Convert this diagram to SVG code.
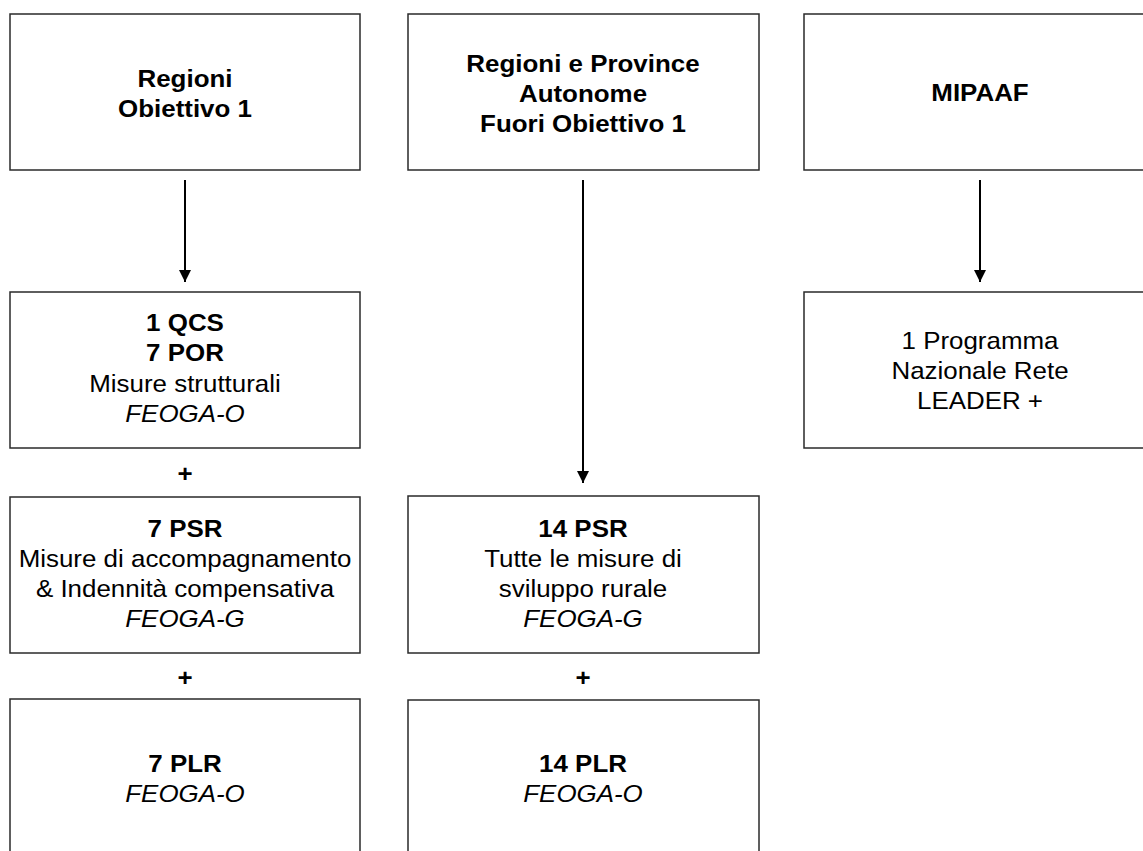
<svg xmlns="http://www.w3.org/2000/svg" width="1143" height="851" viewBox="0 0 1143 851">
<style>
.box{fill:#fff;stroke:#2a2a2a;stroke-width:1.5}
text{font-family:"Liberation Sans",Arial,sans-serif;font-size:24px;fill:#000;text-anchor:middle}
.b{font-weight:bold}
.i{font-style:italic}
.conn{stroke:#000;stroke-width:2;fill:none}
</style>
<defs>
<marker id="ah" markerWidth="12" markerHeight="12" refX="6" refY="11" orient="auto" markerUnits="userSpaceOnUse" viewBox="0 0 12 12">
<path d="M0,0 L12,0 L6,12 Z" fill="#000" transform="rotate(-90 6 6)"/>
</marker>
<marker id="arr" markerWidth="12" markerHeight="13" refX="12" refY="6" orient="auto" markerUnits="userSpaceOnUse" viewBox="0 0 12 12">
<path d="M0,0 L12,6 L0,12 Z" fill="#000"/>
</marker>
</defs>
<rect width="1143" height="851" fill="#fff"/>

<g id="connectors">
<line class="conn" x1="185" y1="180" x2="185" y2="282" marker-end="url(#arr)"/>
<line class="conn" x1="583" y1="180" x2="583" y2="483" marker-end="url(#arr)"/>
<line class="conn" x1="980" y1="180" x2="980" y2="282" marker-end="url(#arr)"/>
</g>

<g id="n_regioni">
<rect class="box" x="10" y="14" width="350" height="156"/>
<g transform="matrix(1.08,0,0,1,185,0)">
<text class="b" x="0" y="87">Regioni</text>
<text class="b" x="0" y="117">Obiettivo 1</text>
</g>
</g>

<g id="n_fuori">
<rect class="box" x="408" y="14" width="351" height="156"/>
<g transform="matrix(1.08,0,0,1,583,0)">
<text class="b" x="0" y="72">Regioni e Province</text>
<text class="b" x="0" y="102">Autonome</text>
<text class="b" x="0" y="132">Fuori Obiettivo 1</text>
</g>
</g>

<g id="n_mipaaf">
<rect class="box" x="804" y="14" width="350" height="156"/>
<g transform="matrix(1.08,0,0,1,980,0)">
<text class="b" x="0" y="101">MIPAAF</text>
</g>
</g>

<g id="n_qcs">
<rect class="box" x="10" y="292" width="350" height="156"/>
<g transform="matrix(1.08,0,0,1,185,0)">
<text class="b" x="0" y="331">1 QCS</text>
<text class="b" x="0" y="361">7 POR</text>
<text x="0" y="392">Misure strutturali</text>
<text class="i" x="0" y="422">FEOGA-O</text>
</g>
</g>

<g id="n_leader">
<rect class="box" x="804" y="292" width="350" height="156"/>
<g transform="matrix(1.08,0,0,1,980,0)">
<text x="0" y="349">1 Programma</text>
<text x="0" y="379">Nazionale Rete</text>
<text x="0" y="409">LEADER +</text>
</g>
</g>

<g id="plus1"><g transform="matrix(1.08,0,0,1,185,0)"><text class="b" x="0" y="482">+</text></g></g>

<g id="n_7psr">
<rect class="box" x="10" y="497" width="350" height="156"/>
<g transform="matrix(1.08,0,0,1,185,0)">
<text class="b" x="0" y="537">7 PSR</text>
<text x="0" y="567">Misure di accompagnamento</text>
<text x="0" y="597">&amp; Indennità compensativa</text>
<text class="i" x="0" y="627">FEOGA-G</text>
</g>
</g>

<g id="n_14psr">
<rect class="box" x="408" y="496" width="351" height="157"/>
<g transform="matrix(1.08,0,0,1,583,0)">
<text class="b" x="0" y="537">14 PSR</text>
<text x="0" y="567">Tutte le misure di</text>
<text x="0" y="597">sviluppo rurale</text>
<text class="i" x="0" y="627">FEOGA-G</text>
</g>
</g>

<g id="plus2"><g transform="matrix(1.08,0,0,1,185,0)"><text class="b" x="0" y="686">+</text></g></g>
<g id="plus3"><g transform="matrix(1.08,0,0,1,583,0)"><text class="b" x="0" y="686">+</text></g></g>

<g id="n_7plr">
<rect class="box" x="10" y="699" width="350" height="170"/>
<g transform="matrix(1.08,0,0,1,185,0)">
<text class="b" x="0" y="772">7 PLR</text>
<text class="i" x="0" y="802">FEOGA-O</text>
</g>
</g>

<g id="n_14plr">
<rect class="box" x="408" y="700" width="351" height="170"/>
<g transform="matrix(1.08,0,0,1,583,0)">
<text class="b" x="0" y="772">14 PLR</text>
<text class="i" x="0" y="802">FEOGA-O</text>
</g>
</g>
</svg>
